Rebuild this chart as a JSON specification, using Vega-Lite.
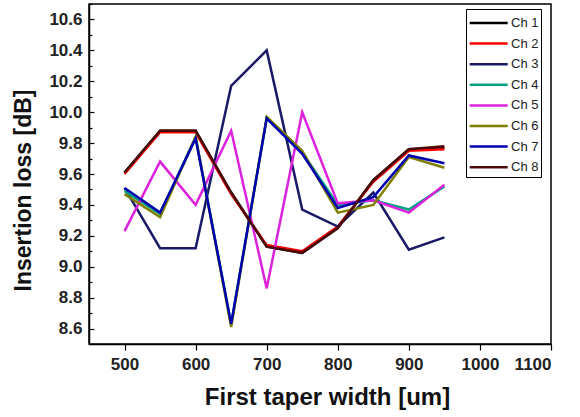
{
  "$schema": "https://vega.github.io/schema/vega-lite/v6.json",
  "autosize": "none",
  "padding": {"left": 89, "top": 4, "right": 29, "bottom": 73},
  "width": 462,
  "height": 340,
  "background": "white",
  "config": {
    "view": {"stroke": "black", "strokeWidth": 1.5},
    "font": "Liberation Sans"
  },
  "data": {
    "values": [
      {"x": 500, "ch": "Ch1", "v": 9.61}, {"x": 550, "ch": "Ch1", "v": 9.88}, {"x": 600, "ch": "Ch1", "v": 9.88}, {"x": 650, "ch": "Ch1", "v": 9.48}, {"x": 700, "ch": "Ch1", "v": 9.13}, {"x": 750, "ch": "Ch1", "v": 9.09}, {"x": 800, "ch": "Ch1", "v": 9.25}, {"x": 850, "ch": "Ch1", "v": 9.56}, {"x": 900, "ch": "Ch1", "v": 9.76}, {"x": 950, "ch": "Ch1", "v": 9.77},
      {"x": 500, "ch": "Ch2", "v": 9.60}, {"x": 550, "ch": "Ch2", "v": 9.87}, {"x": 600, "ch": "Ch2", "v": 9.87}, {"x": 650, "ch": "Ch2", "v": 9.47}, {"x": 700, "ch": "Ch2", "v": 9.14}, {"x": 750, "ch": "Ch2", "v": 9.10}, {"x": 800, "ch": "Ch2", "v": 9.26}, {"x": 850, "ch": "Ch2", "v": 9.55}, {"x": 900, "ch": "Ch2", "v": 9.75}, {"x": 950, "ch": "Ch2", "v": 9.76},
      {"x": 500, "ch": "Ch3", "v": 9.51}, {"x": 550, "ch": "Ch3", "v": 9.12}, {"x": 600, "ch": "Ch3", "v": 9.12}, {"x": 650, "ch": "Ch3", "v": 10.17}, {"x": 700, "ch": "Ch3", "v": 10.40}, {"x": 750, "ch": "Ch3", "v": 9.37}, {"x": 800, "ch": "Ch3", "v": 9.26}, {"x": 850, "ch": "Ch3", "v": 9.48}, {"x": 900, "ch": "Ch3", "v": 9.11}, {"x": 950, "ch": "Ch3", "v": 9.19},
      {"x": 500, "ch": "Ch4", "v": 9.49}, {"x": 550, "ch": "Ch4", "v": 9.34}, {"x": 600, "ch": "Ch4", "v": 9.84}, {"x": 650, "ch": "Ch4", "v": 8.63}, {"x": 700, "ch": "Ch4", "v": 9.96}, {"x": 750, "ch": "Ch4", "v": 9.74}, {"x": 800, "ch": "Ch4", "v": 9.40}, {"x": 850, "ch": "Ch4", "v": 9.43}, {"x": 900, "ch": "Ch4", "v": 9.37}, {"x": 950, "ch": "Ch4", "v": 9.52},
      {"x": 500, "ch": "Ch5", "v": 9.23}, {"x": 550, "ch": "Ch5", "v": 9.68}, {"x": 600, "ch": "Ch5", "v": 9.40}, {"x": 650, "ch": "Ch5", "v": 9.88}, {"x": 700, "ch": "Ch5", "v": 8.86}, {"x": 750, "ch": "Ch5", "v": 10.00}, {"x": 800, "ch": "Ch5", "v": 9.41}, {"x": 850, "ch": "Ch5", "v": 9.43}, {"x": 900, "ch": "Ch5", "v": 9.35}, {"x": 950, "ch": "Ch5", "v": 9.53},
      {"x": 500, "ch": "Ch6", "v": 9.47}, {"x": 550, "ch": "Ch6", "v": 9.32}, {"x": 600, "ch": "Ch6", "v": 9.84}, {"x": 650, "ch": "Ch6", "v": 8.61}, {"x": 700, "ch": "Ch6", "v": 9.97}, {"x": 750, "ch": "Ch6", "v": 9.75}, {"x": 800, "ch": "Ch6", "v": 9.35}, {"x": 850, "ch": "Ch6", "v": 9.40}, {"x": 900, "ch": "Ch6", "v": 9.71}, {"x": 950, "ch": "Ch6", "v": 9.64},
      {"x": 500, "ch": "Ch7", "v": 9.51}, {"x": 550, "ch": "Ch7", "v": 9.35}, {"x": 600, "ch": "Ch7", "v": 9.83}, {"x": 650, "ch": "Ch7", "v": 8.63}, {"x": 700, "ch": "Ch7", "v": 9.96}, {"x": 750, "ch": "Ch7", "v": 9.73}, {"x": 800, "ch": "Ch7", "v": 9.38}, {"x": 850, "ch": "Ch7", "v": 9.45}, {"x": 900, "ch": "Ch7", "v": 9.72}, {"x": 950, "ch": "Ch7", "v": 9.67},
      {"x": 500, "ch": "Ch8", "v": 9.61}, {"x": 550, "ch": "Ch8", "v": 9.88}, {"x": 600, "ch": "Ch8", "v": 9.88}, {"x": 650, "ch": "Ch8", "v": 9.48}, {"x": 700, "ch": "Ch8", "v": 9.13}, {"x": 750, "ch": "Ch8", "v": 9.09}, {"x": 800, "ch": "Ch8", "v": 9.25}, {"x": 850, "ch": "Ch8", "v": 9.56}, {"x": 900, "ch": "Ch8", "v": 9.76}, {"x": 950, "ch": "Ch8", "v": 9.78}
    ]
  },
  "layer": [
    {
      "mark": {"type": "line", "strokeWidth": 2.5, "clip": true},
      "encoding": {
        "x": {
          "field": "x", "type": "quantitative",
          "scale": {"domain": [450, 1100], "nice": false, "zero": false},
          "axis": {
            "title": "First taper width [um]",
            "titleX": 238,
            "values": [500, 600, 700, 800, 900, 1000, 1100],
            "format": "d",
            "grid": false,
            "domainColor": "black", "domainWidth": 1.5,
            "tickColor": "black", "tickWidth": 1.2, "tickSize": 6,
            "labelPadding": 6,
            "labelFont": "Liberation Sans", "labelFontSize": 17, "labelFontWeight": "bold", "labelColor": "#222",
            "titleFont": "Liberation Sans", "titleFontSize": 24, "titleFontWeight": "bold", "titleColor": "#111",
            "titlePadding": 13
          }
        },
        "y": {
          "field": "v", "type": "quantitative",
          "scale": {"domain": [8.5, 10.7], "nice": false, "zero": false},
          "axis": {
            "title": "Insertion loss [dB]",
            "titleY": 186,
            "values": [8.6, 8.8, 9.0, 9.2, 9.4, 9.6, 9.8, 10.0, 10.2, 10.4, 10.6],
            "format": ".1f",
            "grid": false,
            "domainColor": "black", "domainWidth": 1.5,
            "tickColor": "black", "tickWidth": 1.2, "tickSize": -5,
            "labelPadding": 12,
            "labelFont": "Liberation Sans", "labelFontSize": 17, "labelFontWeight": "bold", "labelColor": "#222",
            "titleFont": "Liberation Sans", "titleFontSize": 23, "titleFontWeight": "bold", "titleColor": "#111",
            "titlePadding": 13
          }
        },
        "color": {
          "field": "ch", "type": "nominal",
          "scale": {
            "domain": ["Ch1", "Ch2", "Ch3", "Ch4", "Ch5", "Ch6", "Ch7", "Ch8"],
            "range": ["#000000", "#ff0000", "#1a1a66", "#00a080", "#dd22dd", "#808000", "#0000b0", "#4a0a0a"]
          },
          "legend": {
            "title": null,
            "orient": "none",
            "legendX": 377,
            "legendY": 5,
            "strokeColor": "black",
            "fillColor": "white",
            "padding": 2,
            "symbolType": "M-1,0H2.69",
            "symbolSize": 424,
            "symbolStrokeWidth": 2.5,
            "labelExpr": "replace(datum.label, 'Ch', 'Ch ')",
            "labelFont": "Liberation Sans",
            "labelFontSize": 13,
            "labelColor": "#222",
            "rowPadding": 1.6,
            "labelOffset": 19
          }
        }
      }
    },
    {
      "mark": {"type": "point", "opacity": 0},
      "encoding": {
        "x": {"field": "x", "type": "quantitative"},
        "y": {
          "field": "v", "type": "quantitative",
          "axis": {
            "orient": "left",
            "title": null,
            "labels": false,
            "domain": false,
            "grid": false,
            "values": [8.5, 8.7, 8.9, 9.1, 9.3, 9.5, 9.7, 9.9, 10.1, 10.3, 10.5, 10.7],
            "tickColor": "black", "tickWidth": 1.2, "tickSize": -3
          }
        }
      }
    }
  ],
  "resolve": {"axis": {"y": "independent"}}
}
